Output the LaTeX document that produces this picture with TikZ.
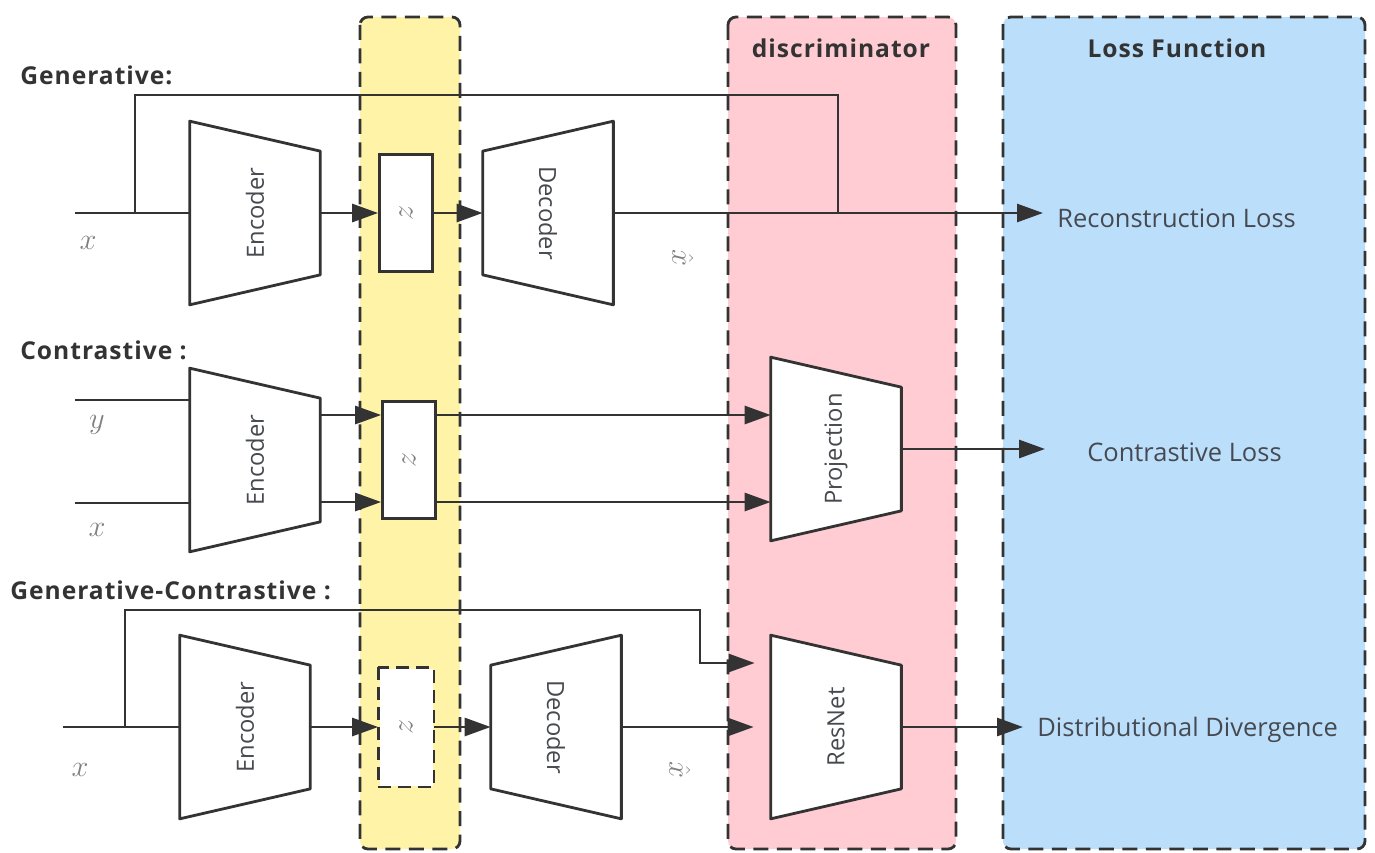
\documentclass[tikz,border=0pt]{standalone}
\usepackage{fontspec}
\setmainfont{Open Sans}
\newfontfamily\headfont{Open Sans}[LetterSpace=4]
\usetikzlibrary{arrows.meta}
\definecolor{zyellow}{RGB}{255,243,168}
\definecolor{discpink}{RGB}{255,204,211}
\definecolor{lossblue}{RGB}{187,222,251}
\definecolor{edgegray}{RGB}{51,51,51}
\definecolor{txtgray}{RGB}{70,74,80}

\newcommand{\trapcut}{0.6cm}
\newcommand{\encshape}[1]{\draw[blkline] (#1.north west) -- ([yshift=-\trapcut]#1.north east) -- ([yshift=\trapcut]#1.south east) -- (#1.south west) -- cycle;}
\newcommand{\decshape}[1]{\draw[blkline] ([yshift=-\trapcut]#1.north west) -- (#1.north east) -- (#1.south east) -- ([yshift=\trapcut]#1.south west) -- cycle;}

\begin{document}
\begin{tikzpicture}[x=0.02cm, y=-0.02cm,
    line/.style={edgegray, line width=1.6pt},
    arr/.style={line, -{Triangle[length=0.52cm, width=0.36cm]}},
    panel/.style={edgegray, line width=1.6pt, dash pattern=on 0.3cm off 0.17cm, rounded corners=0.16cm},
    blk/.style={inner sep=0, minimum width=2.6cm, minimum height=3.66cm},
    blkline/.style={line, fill=white, line join=round},
    zbox/.style={draw=edgegray, line width=1.6pt, fill=white, inner sep=0, minimum width=1.06cm, minimum height=2.34cm, text=gray, font=\fontsize{16}{18}\selectfont},
    blktxt/.style={text=txtgray, font=\fontsize{13.5}{15}\selectfont},
    head/.style={font=\headfont\fontsize{14}{16}\selectfont\bfseries, text=edgegray, inner sep=0},
    loss/.style={font=\fontsize{14.5}{16}\selectfont, text=txtgray, anchor=west, inner sep=0},
    var/.style={text=gray, font=\fontsize{17}{19}\selectfont}]
    \useasboundingbox (0,0) rectangle (1375,852);

    \draw[panel, fill=zyellow] (360,17) rectangle (460,849);
    \draw[panel, fill=discpink] (728,17) rectangle (956,849);
    \draw[panel, fill=lossblue] (1003,17) rectangle (1365,849);
    \node[head] (hdisc) at (841,48) {discriminator};
    \node[head] (hloss) at (1177,48) {Loss Function};

    \node[head, anchor=west] (hgen) at (20,75) {Generative:};
    \node[head, anchor=west] (hcon) at (20,350) {Contrastive :};
    \node[head, anchor=west] (hgc) at (10,590) {Generative-Contrastive :};

    % generative
    \node[blk] (enc1) at (255,213) {};
    \node[zbox] (z1) at (406,213) {\rotatebox{90}{$z$}};
    \node[blk] (dec1) at (548,213) {};
    \encshape{enc1}
    \decshape{dec1}
    \node[blktxt, rotate=90] (enc1t) at (enc1) {Encoder};
    \node[blktxt, rotate=-90] (dec1t) at (dec1) {Decoder};
    \coordinate (in1) at (75,213);
    \coordinate (fb1) at (135,213);
    \coordinate (fbk1) at (838,95);
    \coordinate (fb1e) at (838,213);
    \coordinate (rtip) at (1043,213);
    \draw[line] (in1) -- (enc1.west);
    \draw[arr] (enc1.east) -- (z1.west);
    \draw[arr] (z1.east) -- (dec1.west);
    \draw[arr] (dec1.east) -- (rtip);
    \draw[line] (fb1) |- (fbk1) -- (fb1e);
    \node[var] (x1) at (88,243) {$x$};
    \node[var, rotate=-90] (xh1) at (683,258) {$\hat{x}$};
    \node[loss] (rec) at (1057,218) {Reconstruction Loss};

    % contrastive
    \node[blk] (enc2) at (255,460) {};
    \node[zbox] (z2) at (409,460) {\rotatebox{90}{$z$}};
    \node[blk] (proj) at (836,449) {};
    \encshape{enc2}
    \encshape{proj}
    \node[blktxt, rotate=90] (enc2t) at (enc2) {Encoder};
    \node[blktxt, rotate=90] (projt) at (proj) {Projection};
    \coordinate (iny) at (75,400);
    \coordinate (inx) at (75,503);
    \coordinate (yU) at (0,415);
    \coordinate (yL) at (0,502);
    \coordinate (ctip) at (1045,449);
    \draw[line] (iny) -- (iny -| enc2.west);
    \draw[line] (inx) -- (inx -| enc2.west);
    \draw[arr] (enc2.east |- yU) -- (z2.west |- yU);
    \draw[arr] (enc2.east |- yL) -- (z2.west |- yL);
    \draw[arr] (z2.east |- yU) -- (proj.west |- yU);
    \draw[arr] (z2.east |- yL) -- (proj.west |- yL);
    \draw[arr] (proj.east) -- (ctip);
    \node[var] (y2) at (97,425) {$y$};
    \node[var] (x2) at (97,530) {$x$};
    \node[loss] (con) at (1087,452) {Contrastive Loss};

    % generative-contrastive
    \node[blk] (enc3) at (245,727) {};
    \node[zbox, draw=none] (z3) at (406,727) {\rotatebox{90}{$z$}};
    \draw[edgegray, line width=1.6pt, dash pattern=on 0.26cm off 0.14cm] (z3.north west) rectangle (z3.south east);
    \node[blk] (dec3) at (556,727) {};
    \node[blk] (res) at (836,727) {};
    \encshape{enc3}
    \decshape{dec3}
    \encshape{res}
    \node[blktxt, rotate=90] (enc3t) at (enc3) {Encoder};
    \node[blktxt, rotate=-90] (dec3t) at (dec3) {Decoder};
    \node[blktxt, rotate=90] (rest) at (res) {ResNet};
    \coordinate (in3) at (63,727);
    \coordinate (fb3) at (125,727);
    \coordinate (fbk3) at (700,610);
    \coordinate (fbin) at (0,663);
    \coordinate (dtip) at (1023,727);
    \draw[line] (in3) -- (enc3.west);
    \draw[arr] (enc3.east) -- (z3.west);
    \draw[arr] (z3.east) -- (dec3.west);
    \draw[arr, shorten >=0.34cm] (dec3.east) -- (res.west);
    \draw[arr, shorten >=0.32cm] (fb3) |- (fbk3) |- (res.west |- fbin);
    \draw[arr] (res.east) -- (dtip);
    \node[var] (x3) at (80,770) {$x$};
    \node[var, rotate=-90] (xh3) at (680,770) {$\hat{x}$};
    \node[loss] (div) at (1037,730) {Distributional Divergence};
\end{tikzpicture}
\end{document}
